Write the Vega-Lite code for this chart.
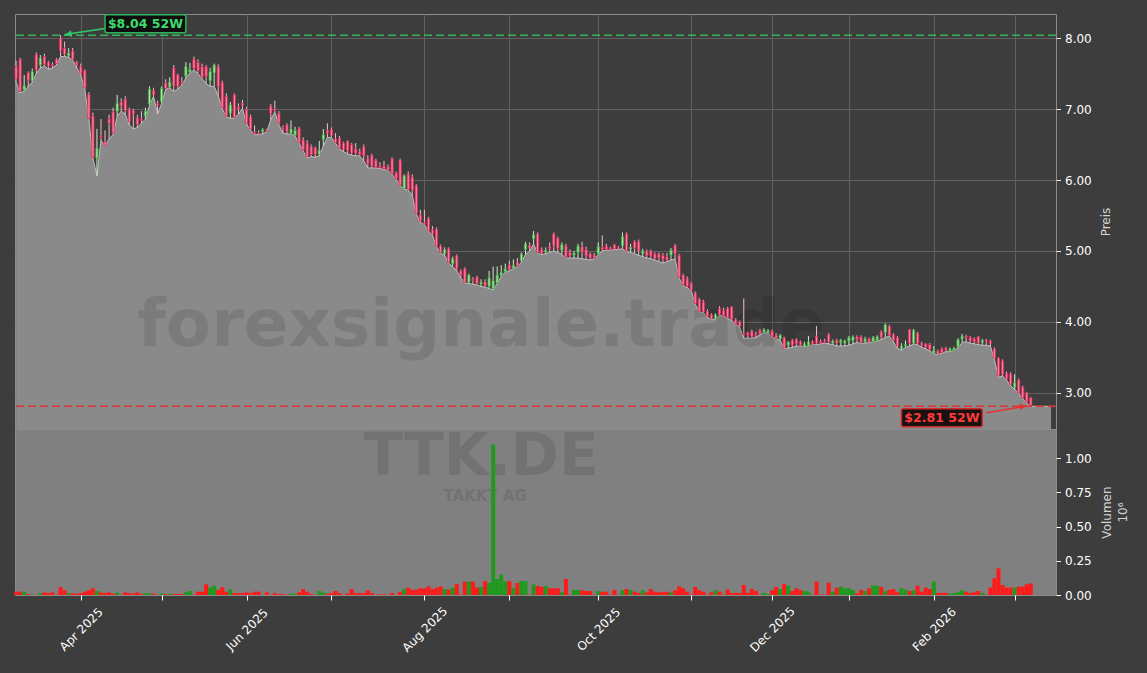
{
"$schema": "https://vega.github.io/schema/vega-lite/v6.json",
"background": "#3d3d3d",
"padding": {"left": 13, "top": 13, "right": 19, "bottom": 20},
"config": {"font": "DejaVu Sans", "view": {"stroke": null}},
"spacing": 0,
"bounds": "flush",
"resolve": {"scale": {"x": "shared"}},
"datasets": {
"ohlc": [
{"d":"2025-03-10","o":7.60,"h":7.68,"l":7.38,"c":7.43,"v":24000},
{"d":"2025-03-11","o":7.70,"h":7.72,"l":7.23,"c":7.25,"v":24000},
{"d":"2025-03-12","o":7.27,"h":7.48,"l":7.25,"c":7.33,"v":24000},
{"d":"2025-03-13","o":7.51,"h":7.53,"l":7.32,"c":7.40,"v":7000},
{"d":"2025-03-14","o":7.40,"h":7.57,"l":7.38,"c":7.53,"v":5000},
{"d":"2025-03-17","o":7.77,"h":7.80,"l":7.50,"c":7.55,"v":2000},
{"d":"2025-03-18","o":7.62,"h":7.76,"l":7.58,"c":7.72,"v":14000},
{"d":"2025-03-19","o":7.74,"h":7.78,"l":7.61,"c":7.63,"v":19000},
{"d":"2025-03-20","o":7.66,"h":7.68,"l":7.56,"c":7.60,"v":14000},
{"d":"2025-03-21","o":7.63,"h":7.66,"l":7.58,"c":7.61,"v":19000},
{"d":"2025-03-24","o":7.70,"h":7.72,"l":7.62,"c":7.64,"v":3000},
{"d":"2025-03-25","o":8.00,"h":8.04,"l":7.74,"c":7.82,"v":58000},
{"d":"2025-03-26","o":7.86,"h":7.95,"l":7.74,"c":7.77,"v":34000},
{"d":"2025-03-27","o":7.75,"h":7.86,"l":7.73,"c":7.79,"v":14000},
{"d":"2025-03-28","o":7.82,"h":7.86,"l":7.69,"c":7.70,"v":12000},
{"d":"2025-03-31","o":7.66,"h":7.68,"l":7.58,"c":7.62,"v":10000},
{"d":"2025-04-01","o":7.60,"h":7.64,"l":7.48,"c":7.50,"v":14000},
{"d":"2025-04-02","o":7.54,"h":7.56,"l":7.28,"c":7.30,"v":24000},
{"d":"2025-04-03","o":7.21,"h":7.24,"l":6.86,"c":6.87,"v":34000},
{"d":"2025-04-04","o":6.90,"h":6.95,"l":6.31,"c":6.32,"v":49000},
{"d":"2025-04-07","o":6.31,"h":6.72,"l":6.06,"c":6.45,"v":29000},
{"d":"2025-04-08","o":6.62,"h":6.86,"l":6.56,"c":6.60,"v":19000},
{"d":"2025-04-09","o":6.54,"h":6.70,"l":6.48,"c":6.49,"v":14000},
{"d":"2025-04-10","o":6.86,"h":6.92,"l":6.58,"c":6.80,"v":19000},
{"d":"2025-04-11","o":6.96,"h":7.02,"l":6.64,"c":6.66,"v":10000},
{"d":"2025-04-14","o":6.97,"h":7.20,"l":6.90,"c":7.08,"v":17000},
{"d":"2025-04-15","o":7.10,"h":7.15,"l":6.97,"c":7.04,"v":3000},
{"d":"2025-04-16","o":7.14,"h":7.18,"l":6.93,"c":6.98,"v":19000},
{"d":"2025-04-17","o":6.99,"h":7.02,"l":6.78,"c":6.82,"v":14000},
{"d":"2025-04-22","o":6.98,"h":7.00,"l":6.72,"c":6.93,"v":10000},
{"d":"2025-04-23","o":6.88,"h":6.92,"l":6.74,"c":6.78,"v":19000},
{"d":"2025-04-24","o":6.86,"h":6.97,"l":6.80,"c":6.84,"v":7000},
{"d":"2025-04-25","o":6.90,"h":7.02,"l":6.86,"c":6.97,"v":12000},
{"d":"2025-04-28","o":7.07,"h":7.32,"l":7.05,"c":7.28,"v":12000},
{"d":"2025-04-29","o":7.26,"h":7.30,"l":7.18,"c":7.20,"v":10000},
{"d":"2025-04-30","o":7.08,"h":7.12,"l":6.93,"c":7.05,"v":2000},
{"d":"2025-05-02","o":7.10,"h":7.32,"l":7.08,"c":7.29,"v":12000},
{"d":"2025-05-05","o":7.37,"h":7.42,"l":7.28,"c":7.29,"v":7000},
{"d":"2025-05-06","o":7.31,"h":7.45,"l":7.30,"c":7.38,"v":10000},
{"d":"2025-05-07","o":7.58,"h":7.62,"l":7.25,"c":7.32,"v":7000},
{"d":"2025-05-08","o":7.48,"h":7.50,"l":7.28,"c":7.32,"v":7000},
{"d":"2025-05-09","o":7.38,"h":7.45,"l":7.34,"c":7.36,"v":7000},
{"d":"2025-05-12","o":7.46,"h":7.66,"l":7.44,"c":7.60,"v":19000},
{"d":"2025-05-13","o":7.52,"h":7.65,"l":7.51,"c":7.56,"v":29000},
{"d":"2025-05-14","o":7.70,"h":7.74,"l":7.55,"c":7.57,"v":3000},
{"d":"2025-05-15","o":7.66,"h":7.70,"l":7.50,"c":7.54,"v":24000},
{"d":"2025-05-16","o":7.60,"h":7.64,"l":7.43,"c":7.45,"v":24000},
{"d":"2025-05-19","o":7.60,"h":7.62,"l":7.36,"c":7.46,"v":78000},
{"d":"2025-05-20","o":7.40,"h":7.58,"l":7.32,"c":7.53,"v":54000},
{"d":"2025-05-21","o":7.51,"h":7.64,"l":7.32,"c":7.62,"v":68000},
{"d":"2025-05-22","o":7.60,"h":7.63,"l":7.19,"c":7.32,"v":37000},
{"d":"2025-05-23","o":7.37,"h":7.40,"l":7.00,"c":7.02,"v":56000},
{"d":"2025-05-26","o":7.18,"h":7.22,"l":6.89,"c":6.90,"v":24000},
{"d":"2025-05-27","o":6.94,"h":7.10,"l":6.87,"c":7.06,"v":41000},
{"d":"2025-05-28","o":7.20,"h":7.22,"l":6.87,"c":6.88,"v":14000},
{"d":"2025-05-29","o":7.03,"h":7.08,"l":6.93,"c":7.00,"v":14000},
{"d":"2025-05-30","o":7.08,"h":7.13,"l":7.01,"c":7.05,"v":14000},
{"d":"2025-06-02","o":7.00,"h":7.03,"l":6.79,"c":6.80,"v":19000},
{"d":"2025-06-03","o":6.89,"h":6.92,"l":6.70,"c":6.72,"v":14000},
{"d":"2025-06-04","o":6.67,"h":6.77,"l":6.64,"c":6.65,"v":24000},
{"d":"2025-06-05","o":6.66,"h":6.70,"l":6.64,"c":6.65,"v":24000},
{"d":"2025-06-06","o":6.68,"h":6.73,"l":6.65,"c":6.71,"v":2000},
{"d":"2025-06-09","o":6.70,"h":6.72,"l":6.68,"c":6.69,"v":19000},
{"d":"2025-06-10","o":7.04,"h":7.07,"l":6.85,"c":6.94,"v":2000},
{"d":"2025-06-11","o":7.00,"h":7.12,"l":6.96,"c":6.98,"v":14000},
{"d":"2025-06-12","o":6.94,"h":6.97,"l":6.78,"c":6.80,"v":7000},
{"d":"2025-06-13","o":6.74,"h":6.77,"l":6.66,"c":6.72,"v":7000},
{"d":"2025-06-16","o":6.78,"h":6.80,"l":6.65,"c":6.68,"v":2000},
{"d":"2025-06-17","o":6.66,"h":6.84,"l":6.65,"c":6.72,"v":10000},
{"d":"2025-06-18","o":6.63,"h":6.75,"l":6.62,"c":6.70,"v":10000},
{"d":"2025-06-19","o":6.73,"h":6.75,"l":6.52,"c":6.53,"v":19000},
{"d":"2025-06-20","o":6.56,"h":6.60,"l":6.41,"c":6.42,"v":44000},
{"d":"2025-06-23","o":6.52,"h":6.56,"l":6.31,"c":6.33,"v":24000},
{"d":"2025-06-24","o":6.47,"h":6.50,"l":6.33,"c":6.36,"v":7000},
{"d":"2025-06-25","o":6.45,"h":6.47,"l":6.32,"c":6.36,"v":2000},
{"d":"2025-06-26","o":6.36,"h":6.55,"l":6.34,"c":6.42,"v":29000},
{"d":"2025-06-27","o":6.57,"h":6.72,"l":6.48,"c":6.64,"v":19000},
{"d":"2025-06-30","o":6.70,"h":6.80,"l":6.60,"c":6.66,"v":10000},
{"d":"2025-07-01","o":6.71,"h":6.74,"l":6.60,"c":6.62,"v":12000},
{"d":"2025-07-02","o":6.58,"h":6.66,"l":6.52,"c":6.53,"v":29000},
{"d":"2025-07-03","o":6.59,"h":6.62,"l":6.44,"c":6.45,"v":14000},
{"d":"2025-07-04","o":6.52,"h":6.54,"l":6.40,"c":6.43,"v":2000},
{"d":"2025-07-07","o":6.55,"h":6.56,"l":6.37,"c":6.41,"v":10000},
{"d":"2025-07-08","o":6.50,"h":6.52,"l":6.35,"c":6.38,"v":44000},
{"d":"2025-07-09","o":6.44,"h":6.52,"l":6.34,"c":6.38,"v":14000},
{"d":"2025-07-10","o":6.40,"h":6.44,"l":6.34,"c":6.36,"v":14000},
{"d":"2025-07-11","o":6.47,"h":6.50,"l":6.27,"c":6.34,"v":14000},
{"d":"2025-07-14","o":6.30,"h":6.35,"l":6.17,"c":6.23,"v":34000},
{"d":"2025-07-15","o":6.35,"h":6.37,"l":6.17,"c":6.19,"v":14000},
{"d":"2025-07-16","o":6.28,"h":6.30,"l":6.17,"c":6.18,"v":2000},
{"d":"2025-07-17","o":6.20,"h":6.25,"l":6.16,"c":6.18,"v":5000},
{"d":"2025-07-18","o":6.20,"h":6.27,"l":6.15,"c":6.16,"v":5000},
{"d":"2025-07-21","o":6.19,"h":6.22,"l":6.13,"c":6.14,"v":2000},
{"d":"2025-07-22","o":6.30,"h":6.32,"l":6.08,"c":6.09,"v":14000},
{"d":"2025-07-23","o":6.10,"h":6.12,"l":6.01,"c":6.02,"v":2000},
{"d":"2025-07-24","o":6.28,"h":6.30,"l":5.92,"c":5.93,"v":24000},
{"d":"2025-07-25","o":5.88,"h":6.08,"l":5.87,"c":6.06,"v":44000},
{"d":"2025-07-28","o":6.08,"h":6.12,"l":5.86,"c":5.87,"v":54000},
{"d":"2025-07-29","o":6.04,"h":6.08,"l":5.78,"c":5.86,"v":39000},
{"d":"2025-07-30","o":5.92,"h":5.94,"l":5.52,"c":5.53,"v":39000},
{"d":"2025-07-31","o":5.51,"h":5.58,"l":5.40,"c":5.42,"v":49000},
{"d":"2025-08-01","o":5.40,"h":5.58,"l":5.37,"c":5.38,"v":49000},
{"d":"2025-08-04","o":5.46,"h":5.48,"l":5.28,"c":5.29,"v":63000},
{"d":"2025-08-05","o":5.30,"h":5.35,"l":5.22,"c":5.24,"v":44000},
{"d":"2025-08-06","o":5.31,"h":5.33,"l":5.06,"c":5.07,"v":54000},
{"d":"2025-08-07","o":5.07,"h":5.09,"l":4.97,"c":4.98,"v":63000},
{"d":"2025-08-08","o":4.96,"h":5.05,"l":4.94,"c":5.02,"v":44000},
{"d":"2025-08-11","o":5.03,"h":5.05,"l":4.83,"c":4.84,"v":39000},
{"d":"2025-08-12","o":4.82,"h":4.92,"l":4.78,"c":4.89,"v":54000},
{"d":"2025-08-13","o":4.93,"h":4.95,"l":4.72,"c":4.75,"v":80000},
{"d":"2025-08-14","o":4.72,"h":4.74,"l":4.62,"c":4.66,"v":3000},
{"d":"2025-08-15","o":4.75,"h":4.77,"l":4.55,"c":4.56,"v":98000},
{"d":"2025-08-18","o":4.56,"h":4.68,"l":4.54,"c":4.66,"v":98000},
{"d":"2025-08-19","o":4.60,"h":4.63,"l":4.53,"c":4.58,"v":98000},
{"d":"2025-08-20","o":4.63,"h":4.65,"l":4.52,"c":4.54,"v":54000},
{"d":"2025-08-21","o":4.53,"h":4.60,"l":4.50,"c":4.56,"v":59000},
{"d":"2025-08-22","o":4.57,"h":4.60,"l":4.49,"c":4.51,"v":102000},
{"d":"2025-08-25","o":4.50,"h":4.72,"l":4.47,"c":4.62,"v":88000},
{"d":"2025-08-26","o":4.47,"h":4.78,"l":4.45,"c":4.58,"v":1100000},
{"d":"2025-08-27","o":4.55,"h":4.78,"l":4.54,"c":4.66,"v":117000},
{"d":"2025-08-28","o":4.65,"h":4.80,"l":4.64,"c":4.70,"v":151000},
{"d":"2025-08-29","o":4.71,"h":4.82,"l":4.70,"c":4.75,"v":98000},
{"d":"2025-09-01","o":4.80,"h":4.86,"l":4.72,"c":4.74,"v":102000},
{"d":"2025-09-02","o":4.76,"h":4.88,"l":4.75,"c":4.80,"v":54000},
{"d":"2025-09-03","o":4.84,"h":4.90,"l":4.78,"c":4.79,"v":88000},
{"d":"2025-09-04","o":4.86,"h":4.98,"l":4.84,"c":4.96,"v":102000},
{"d":"2025-09-05","o":5.02,"h":5.13,"l":4.95,"c":5.10,"v":102000},
{"d":"2025-09-08","o":5.08,"h":5.12,"l":5.00,"c":5.04,"v":3000},
{"d":"2025-09-09","o":5.17,"h":5.28,"l":5.10,"c":5.23,"v":78000},
{"d":"2025-09-10","o":5.24,"h":5.26,"l":4.97,"c":4.98,"v":66000},
{"d":"2025-09-11","o":5.02,"h":5.05,"l":4.95,"c":4.97,"v":59000},
{"d":"2025-09-12","o":4.98,"h":5.05,"l":4.96,"c":5.01,"v":66000},
{"d":"2025-09-15","o":5.06,"h":5.12,"l":4.98,"c":5.03,"v":49000},
{"d":"2025-09-16","o":5.24,"h":5.26,"l":5.00,"c":5.07,"v":49000},
{"d":"2025-09-17","o":5.18,"h":5.20,"l":4.98,"c":5.03,"v":49000},
{"d":"2025-09-18","o":5.01,"h":5.12,"l":4.95,"c":5.09,"v":20000},
{"d":"2025-09-19","o":5.07,"h":5.10,"l":4.90,"c":4.91,"v":117000},
{"d":"2025-09-22","o":4.98,"h":5.02,"l":4.90,"c":4.93,"v":3000},
{"d":"2025-09-23","o":4.94,"h":5.00,"l":4.90,"c":4.97,"v":37000},
{"d":"2025-09-24","o":4.98,"h":5.10,"l":4.90,"c":5.07,"v":37000},
{"d":"2025-09-25","o":5.06,"h":5.13,"l":4.89,"c":4.99,"v":34000},
{"d":"2025-09-26","o":5.02,"h":5.06,"l":4.88,"c":4.93,"v":29000},
{"d":"2025-09-29","o":4.96,"h":4.98,"l":4.87,"c":4.90,"v":29000},
{"d":"2025-09-30","o":4.94,"h":4.97,"l":4.89,"c":4.90,"v":3000},
{"d":"2025-10-01","o":4.96,"h":5.12,"l":4.95,"c":5.06,"v":29000},
{"d":"2025-10-02","o":5.05,"h":5.22,"l":5.00,"c":5.02,"v":24000},
{"d":"2025-10-03","o":5.07,"h":5.10,"l":5.01,"c":5.02,"v":24000},
{"d":"2025-10-06","o":5.04,"h":5.06,"l":5.01,"c":5.02,"v":3000},
{"d":"2025-10-07","o":5.09,"h":5.10,"l":5.02,"c":5.03,"v":37000},
{"d":"2025-10-08","o":5.05,"h":5.07,"l":5.02,"c":5.03,"v":3000},
{"d":"2025-10-09","o":5.07,"h":5.26,"l":5.03,"c":5.20,"v":34000},
{"d":"2025-10-10","o":5.24,"h":5.26,"l":4.99,"c":5.00,"v":44000},
{"d":"2025-10-13","o":5.02,"h":5.10,"l":4.98,"c":5.05,"v":37000},
{"d":"2025-10-14","o":5.13,"h":5.15,"l":4.96,"c":5.04,"v":24000},
{"d":"2025-10-15","o":5.13,"h":5.16,"l":4.94,"c":5.00,"v":15000},
{"d":"2025-10-16","o":4.96,"h":5.03,"l":4.92,"c":5.00,"v":34000},
{"d":"2025-10-17","o":5.00,"h":5.02,"l":4.90,"c":4.93,"v":20000},
{"d":"2025-10-20","o":5.00,"h":5.02,"l":4.89,"c":4.93,"v":44000},
{"d":"2025-10-21","o":4.96,"h":4.98,"l":4.87,"c":4.89,"v":24000},
{"d":"2025-10-22","o":4.96,"h":4.98,"l":4.85,"c":4.90,"v":20000},
{"d":"2025-10-23","o":4.94,"h":4.97,"l":4.83,"c":4.88,"v":20000},
{"d":"2025-10-24","o":4.92,"h":4.97,"l":4.85,"c":4.87,"v":24000},
{"d":"2025-10-27","o":4.94,"h":5.04,"l":4.87,"c":5.01,"v":20000},
{"d":"2025-10-28","o":5.08,"h":5.10,"l":4.89,"c":4.96,"v":34000},
{"d":"2025-10-29","o":4.94,"h":4.96,"l":4.62,"c":4.63,"v":63000},
{"d":"2025-10-30","o":4.66,"h":4.68,"l":4.51,"c":4.52,"v":49000},
{"d":"2025-10-31","o":4.61,"h":4.64,"l":4.48,"c":4.50,"v":24000},
{"d":"2025-11-03","o":4.54,"h":4.56,"l":4.44,"c":4.45,"v":3000},
{"d":"2025-11-04","o":4.41,"h":4.43,"l":4.25,"c":4.26,"v":59000},
{"d":"2025-11-05","o":4.32,"h":4.34,"l":4.14,"c":4.15,"v":34000},
{"d":"2025-11-06","o":4.28,"h":4.31,"l":4.13,"c":4.14,"v":24000},
{"d":"2025-11-07","o":4.15,"h":4.18,"l":4.06,"c":4.08,"v":3000},
{"d":"2025-11-10","o":4.10,"h":4.12,"l":4.04,"c":4.05,"v":20000},
{"d":"2025-11-11","o":4.04,"h":4.12,"l":4.03,"c":4.10,"v":34000},
{"d":"2025-11-12","o":4.19,"h":4.22,"l":4.09,"c":4.10,"v":24000},
{"d":"2025-11-13","o":4.16,"h":4.20,"l":4.08,"c":4.09,"v":3000},
{"d":"2025-11-14","o":4.19,"h":4.21,"l":4.05,"c":4.06,"v":39000},
{"d":"2025-11-17","o":4.21,"h":4.22,"l":4.02,"c":4.04,"v":15000},
{"d":"2025-11-18","o":4.03,"h":4.05,"l":3.97,"c":3.98,"v":15000},
{"d":"2025-11-19","o":4.00,"h":4.02,"l":3.92,"c":3.94,"v":15000},
{"d":"2025-11-20","o":3.84,"h":4.33,"l":3.77,"c":3.82,"v":73000},
{"d":"2025-11-21","o":3.84,"h":3.86,"l":3.77,"c":3.81,"v":15000},
{"d":"2025-11-24","o":3.87,"h":3.89,"l":3.77,"c":3.79,"v":44000},
{"d":"2025-11-25","o":3.83,"h":3.86,"l":3.78,"c":3.81,"v":29000},
{"d":"2025-11-26","o":3.88,"h":3.90,"l":3.82,"c":3.84,"v":3000},
{"d":"2025-11-27","o":3.86,"h":3.91,"l":3.85,"c":3.89,"v":15000},
{"d":"2025-11-28","o":3.85,"h":3.90,"l":3.84,"c":3.88,"v":7000},
{"d":"2025-12-01","o":3.87,"h":3.89,"l":3.79,"c":3.80,"v":34000},
{"d":"2025-12-02","o":3.81,"h":3.84,"l":3.76,"c":3.77,"v":59000},
{"d":"2025-12-03","o":3.76,"h":3.83,"l":3.74,"c":3.81,"v":44000},
{"d":"2025-12-04","o":3.77,"h":3.79,"l":3.62,"c":3.63,"v":80000},
{"d":"2025-12-05","o":3.67,"h":3.73,"l":3.63,"c":3.71,"v":68000},
{"d":"2025-12-08","o":3.74,"h":3.76,"l":3.64,"c":3.67,"v":29000},
{"d":"2025-12-09","o":3.75,"h":3.77,"l":3.66,"c":3.69,"v":49000},
{"d":"2025-12-10","o":3.72,"h":3.74,"l":3.66,"c":3.68,"v":37000},
{"d":"2025-12-11","o":3.66,"h":3.72,"l":3.65,"c":3.69,"v":29000},
{"d":"2025-12-12","o":3.67,"h":3.80,"l":3.66,"c":3.72,"v":24000},
{"d":"2025-12-15","o":3.72,"h":3.74,"l":3.68,"c":3.69,"v":3000},
{"d":"2025-12-16","o":3.80,"h":3.94,"l":3.68,"c":3.70,"v":98000},
{"d":"2025-12-17","o":3.72,"h":3.75,"l":3.69,"c":3.70,"v":3000},
{"d":"2025-12-18","o":3.73,"h":3.76,"l":3.70,"c":3.71,"v":3000},
{"d":"2025-12-19","o":3.82,"h":3.84,"l":3.69,"c":3.72,"v":90000},
{"d":"2025-12-22","o":3.70,"h":3.75,"l":3.68,"c":3.73,"v":24000},
{"d":"2025-12-23","o":3.74,"h":3.76,"l":3.66,"c":3.70,"v":54000},
{"d":"2025-12-29","o":3.71,"h":3.76,"l":3.66,"c":3.74,"v":61000},
{"d":"2025-12-30","o":3.70,"h":3.75,"l":3.66,"c":3.73,"v":49000},
{"d":"2026-01-02","o":3.73,"h":3.80,"l":3.67,"c":3.78,"v":49000},
{"d":"2026-01-05","o":3.74,"h":3.81,"l":3.69,"c":3.79,"v":37000},
{"d":"2026-01-06","o":3.79,"h":3.81,"l":3.71,"c":3.75,"v":12000},
{"d":"2026-01-07","o":3.79,"h":3.81,"l":3.70,"c":3.71,"v":37000},
{"d":"2026-01-08","o":3.72,"h":3.79,"l":3.70,"c":3.76,"v":29000},
{"d":"2026-01-09","o":3.76,"h":3.78,"l":3.71,"c":3.72,"v":49000},
{"d":"2026-01-12","o":3.72,"h":3.80,"l":3.72,"c":3.78,"v":68000},
{"d":"2026-01-13","o":3.74,"h":3.81,"l":3.73,"c":3.79,"v":68000},
{"d":"2026-01-14","o":3.86,"h":3.88,"l":3.75,"c":3.78,"v":59000},
{"d":"2026-01-15","o":3.85,"h":3.98,"l":3.78,"c":3.96,"v":29000},
{"d":"2026-01-16","o":3.94,"h":3.96,"l":3.80,"c":3.81,"v":37000},
{"d":"2026-01-19","o":3.82,"h":3.84,"l":3.72,"c":3.74,"v":44000},
{"d":"2026-01-20","o":3.78,"h":3.80,"l":3.63,"c":3.66,"v":20000},
{"d":"2026-01-21","o":3.62,"h":3.70,"l":3.60,"c":3.66,"v":49000},
{"d":"2026-01-22","o":3.66,"h":3.74,"l":3.64,"c":3.68,"v":39000},
{"d":"2026-01-23","o":3.89,"h":3.90,"l":3.66,"c":3.70,"v":29000},
{"d":"2026-01-26","o":3.70,"h":3.90,"l":3.69,"c":3.88,"v":34000},
{"d":"2026-01-27","o":3.84,"h":3.86,"l":3.68,"c":3.70,"v":68000},
{"d":"2026-01-28","o":3.70,"h":3.72,"l":3.64,"c":3.67,"v":24000},
{"d":"2026-01-29","o":3.69,"h":3.70,"l":3.62,"c":3.64,"v":54000},
{"d":"2026-01-30","o":3.68,"h":3.70,"l":3.59,"c":3.61,"v":44000},
{"d":"2026-02-02","o":3.56,"h":3.66,"l":3.55,"c":3.60,"v":98000},
{"d":"2026-02-03","o":3.59,"h":3.61,"l":3.54,"c":3.55,"v":15000},
{"d":"2026-02-04","o":3.62,"h":3.64,"l":3.56,"c":3.57,"v":15000},
{"d":"2026-02-05","o":3.63,"h":3.65,"l":3.58,"c":3.60,"v":15000},
{"d":"2026-02-06","o":3.59,"h":3.64,"l":3.58,"c":3.62,"v":10000},
{"d":"2026-02-09","o":3.60,"h":3.65,"l":3.60,"c":3.63,"v":15000},
{"d":"2026-02-10","o":3.65,"h":3.77,"l":3.63,"c":3.75,"v":20000},
{"d":"2026-02-11","o":3.76,"h":3.83,"l":3.71,"c":3.80,"v":34000},
{"d":"2026-02-12","o":3.80,"h":3.82,"l":3.72,"c":3.78,"v":24000},
{"d":"2026-02-13","o":3.78,"h":3.80,"l":3.70,"c":3.73,"v":15000},
{"d":"2026-02-16","o":3.76,"h":3.78,"l":3.69,"c":3.72,"v":20000},
{"d":"2026-02-17","o":3.79,"h":3.80,"l":3.68,"c":3.70,"v":29000},
{"d":"2026-02-18","o":3.71,"h":3.76,"l":3.67,"c":3.74,"v":15000},
{"d":"2026-02-19","o":3.74,"h":3.76,"l":3.67,"c":3.72,"v":3000},
{"d":"2026-02-20","o":3.73,"h":3.75,"l":3.66,"c":3.69,"v":54000},
{"d":"2026-02-23","o":3.62,"h":3.64,"l":3.47,"c":3.49,"v":122000},
{"d":"2026-02-24","o":3.49,"h":3.50,"l":3.22,"c":3.24,"v":195000},
{"d":"2026-02-25","o":3.45,"h":3.47,"l":3.24,"c":3.26,"v":73000},
{"d":"2026-02-26","o":3.27,"h":3.30,"l":3.18,"c":3.20,"v":54000},
{"d":"2026-02-27","o":3.27,"h":3.29,"l":3.10,"c":3.12,"v":54000},
{"d":"2026-03-02","o":3.08,"h":3.26,"l":3.05,"c":3.14,"v":54000},
{"d":"2026-03-03","o":3.18,"h":3.20,"l":2.99,"c":3.00,"v":61000},
{"d":"2026-03-04","o":3.08,"h":3.10,"l":2.92,"c":2.93,"v":61000},
{"d":"2026-03-05","o":3.00,"h":3.01,"l":2.85,"c":2.87,"v":78000},
{"d":"2026-03-06","o":2.93,"h":2.94,"l":2.81,"c":2.82,"v":85000},
{"d":"2026-03-09","l":2.81},
{"d":"2026-03-10","l":2.81},
{"d":"2026-03-11","l":2.81},
{"d":"2026-03-12","l":2.81},
{"d":"2026-03-13","l":2.81}
]
},
"vconcat": [
{
"width": 1041,
"height": 415,
"view": {"fill": "#3d3d3d", "stroke": "#8c8c8c", "strokeWidth": 1},
"layer": [
{
"data": {"name": "ohlc"},
"mark": {"type": "area", "color": "#8a8a8a", "opacity": 1, "clip": true, "line": {"color": "#bdbdbd", "strokeWidth": 1}},
"encoding": {
"x": {"field": "d", "type": "ordinal", "scale": {"type": "point", "padding": 0.75, "align": 0.18},
"axis": {"title": null, "values": ["2025-04-01","2025-05-02","2025-06-02","2025-07-01","2025-08-01","2025-09-01","2025-10-01","2025-11-03","2025-12-01","2026-01-02","2026-02-02","2026-03-02"], "labels": false, "ticks": false, "domain": false, "grid": true, "gridColor": "#606060", "gridWidth": 1}},
"y": {"field": "l", "type": "quantitative", "scale": {"domain": [2.49, 8.34], "zero": false, "nice": false},
"axis": {"orient": "right", "values": [3,4,5,6,7,8], "format": ".2f", "title": "Preis", "grid": true, "gridColor": "#606060", "gridWidth": 1, "domain": false, "tickColor": "#ffffff", "tickSize": 4.5, "tickWidth": 1, "labelColor": "#ffffff", "labelFontSize": 12, "labelPadding": 4, "titleColor": "#d4d4d4", "titleFontSize": 12, "titleFontWeight": "normal", "titleAngle": 270, "titleBaseline": "top", "titlePadding": 9}},
"y2": {"datum": 2.49}
}
},
{
"data": {"values": [{"d": "2025-08-21", "p": 3.94, "t": "forexsignale.trade"}]},
"mark": {"type": "text", "fontSize": 66, "fontWeight": "bold", "color": "#000000", "opacity": 0.1, "align": "center", "baseline": "middle"},
"encoding": {"x": {"field": "d", "type": "ordinal"}, "y": {"field": "p", "type": "quantitative"}, "text": {"field": "t"}}
},
{
"data": {"name": "ohlc"},
"transform": [{"filter": "isValid(datum.o)"}],
"mark": {"type": "rule", "strokeWidth": 1},
"encoding": {
"x": {"field": "d", "type": "ordinal"},
"y": {"field": "l", "type": "quantitative"},
"y2": {"field": "h"},
"color": {"condition": {"test": "datum.c >= datum.o", "value": "#c9efc9"}, "value": "#f2bfca"}
}
},
{
"data": {"name": "ohlc"},
"transform": [{"filter": "isValid(datum.o)"}],
"mark": {"type": "bar", "width": 2.2, "strokeWidth": 0.8},
"encoding": {
"x": {"field": "d", "type": "ordinal"},
"y": {"field": "o", "type": "quantitative"},
"y2": {"field": "c"},
"fill": {"condition": {"test": "datum.c >= datum.o", "value": "#a6e6a6"}, "value": "#f5859d"},
"stroke": {"condition": {"test": "datum.c >= datum.o", "value": "#3fa83f"}, "value": "#e2265a"}
}
},
{
"data": {"values": [{}]},
"mark": {"type": "rule", "color": "#33b35a", "strokeDash": [8, 4], "strokeWidth": 1.5},
"encoding": {"y": {"datum": 8.04}}
},
{
"data": {"values": [{}]},
"mark": {"type": "rule", "color": "#e03333", "strokeDash": [8, 4], "strokeWidth": 1.5},
"encoding": {"y": {"datum": 2.81}}
},
{
"data": {"values": [{"d1": "2025-04-09", "p1": 8.135, "d2": "2025-03-26", "p2": 8.05}]},
"mark": {"type": "rule", "color": "#2fcc66", "strokeWidth": 1.5},
"encoding": {"x": {"field": "d1", "type": "ordinal"}, "y": {"field": "p1", "type": "quantitative"}, "x2": {"field": "d2"}, "y2": {"field": "p2"}}
},
{
"data": {"values": [{"d": "2025-03-27", "p": 8.057}]},
"mark": {"type": "point", "shape": "triangle-left", "filled": true, "size": 45, "angle": 351, "color": "#2fcc66", "opacity": 1},
"encoding": {"x": {"field": "d", "type": "ordinal"}, "y": {"field": "p", "type": "quantitative"}}
},
{
"data": {"values": [{"d1": "2025-04-09", "d2": "2025-05-12", "p1": 8.075, "p2": 8.33}]},
"mark": {"type": "rect", "fill": "#0f0f0f", "stroke": "#2fb35a", "strokeWidth": 1.5, "cornerRadius": 2},
"encoding": {"x": {"field": "d1", "type": "ordinal"}, "x2": {"field": "d2"}, "y": {"field": "p1", "type": "quantitative"}, "y2": {"field": "p2"}}
},
{
"data": {"values": [{"d": "2025-04-25", "p": 8.2, "t": "$8.04 52W"}]},
"mark": {"type": "text", "fontSize": 12.5, "fontWeight": "bold", "color": "#3ddc6e", "align": "center", "baseline": "middle"},
"encoding": {"x": {"field": "d", "type": "ordinal"}, "y": {"field": "p", "type": "quantitative"}, "text": {"field": "t"}}
},
{
"data": {"values": [{"d1": "2026-02-19", "p1": 2.72, "d2": "2026-03-05", "p2": 2.815}]},
"mark": {"type": "rule", "color": "#e83030", "strokeWidth": 1.5},
"encoding": {"x": {"field": "d1", "type": "ordinal"}, "y": {"field": "p1", "type": "quantitative"}, "x2": {"field": "d2"}, "y2": {"field": "p2"}}
},
{
"data": {"values": [{"d": "2026-03-04", "p": 2.808}]},
"mark": {"type": "point", "shape": "triangle-right", "filled": true, "size": 45, "angle": 350, "color": "#e83030", "opacity": 1},
"encoding": {"x": {"field": "d", "type": "ordinal"}, "y": {"field": "p", "type": "quantitative"}}
},
{
"data": {"values": [{"d1": "2026-01-21", "d2": "2026-02-18", "p1": 2.52, "p2": 2.775}]},
"mark": {"type": "rect", "fill": "#1a1111", "stroke": "#d42a2a", "strokeWidth": 1.5, "cornerRadius": 2},
"encoding": {"x": {"field": "d1", "type": "ordinal"}, "x2": {"field": "d2"}, "y": {"field": "p1", "type": "quantitative"}, "y2": {"field": "p2"}}
},
{
"data": {"values": [{"d": "2026-02-04", "p": 2.645, "t": "$2.81 52W"}]},
"mark": {"type": "text", "fontSize": 12.5, "fontWeight": "bold", "color": "#ff3b3b", "align": "center", "baseline": "middle"},
"encoding": {"x": {"field": "d", "type": "ordinal"}, "y": {"field": "p", "type": "quantitative"}, "text": {"field": "t"}}
}
]
},
{
"width": 1041,
"height": 166,
"view": {"fill": "#808080", "stroke": "#8c8c8c", "strokeWidth": 1},
"layer": [
{
"data": {"values": [{"d": "2025-08-21", "v": 1003000, "t": "TTK.DE", "s": 58}, {"d": "2025-08-22", "v": 722000, "t": "TAKKT AG", "s": 15}]},
"mark": {"type": "text", "fontWeight": "bold", "color": "#000000", "opacity": 0.1, "align": "center", "baseline": "middle"},
"encoding": {
"x": {"field": "d", "type": "ordinal", "scale": {"type": "point", "padding": 0.75, "align": 0.18},
"axis": {"title": null, "values": ["2025-04-01","2025-05-02","2025-06-02","2025-07-01","2025-08-01","2025-09-01","2025-10-01","2025-11-03","2025-12-01","2026-01-02","2026-02-02","2026-03-02"], "labelExpr": "utcmonth(toDate(datum.value)) % 2 == 1 ? utcFormat(toDate(datum.value), '%b %Y') : ''", "labelAngle": -45, "labelAlign": "center", "labelBaseline": "middle", "labelPadding": 29, "labelColor": "#ffffff", "labelFontSize": 12, "labelOverlap": false, "labelBound": false, "labelFlush": false, "ticks": true, "tickColor": "#ffffff", "tickSize": 5, "tickWidth": 1, "domain": false, "grid": false}},
"y": {"field": "v", "type": "quantitative", "scale": {"domain": [0, 1213000], "nice": false, "zero": true},
"axis": {"orient": "right", "values": [0, 250000, 500000, 750000, 1000000], "labelExpr": "format(datum.value / 1000000, '.2f')", "title": ["Volumen", "10⁶"], "grid": false, "domain": false, "tickColor": "#ffffff", "tickSize": 4.5, "tickWidth": 1, "labelColor": "#ffffff", "labelFontSize": 12, "labelPadding": 4, "titleColor": "#d4d4d4", "titleFontSize": 12, "titleFontWeight": "normal", "titleAngle": 270, "titleBaseline": "top", "titlePadding": -6, "titleLineHeight": 16}},
"text": {"field": "t"},
"size": {"field": "s", "type": "quantitative", "scale": null}
}
},
{
"data": {"name": "ohlc"},
"transform": [{"filter": "isValid(datum.v)"}],
"mark": {"type": "bar", "width": 4},
"encoding": {
"x": {"field": "d", "type": "ordinal"},
"y": {"field": "v", "type": "quantitative"},
"color": {"condition": {"test": "datum.c >= datum.o", "value": "#1f9a1f"}, "value": "#ff1a1a"}
}
}
]
}
]
}
